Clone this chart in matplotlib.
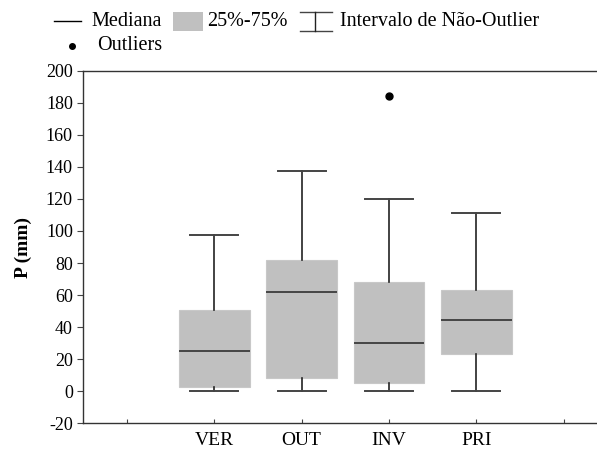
import matplotlib
matplotlib.use('Agg')
import matplotlib.pyplot as plt
from matplotlib.lines import Line2D
from matplotlib.patches import Rectangle

plt.rcParams['font.family'] = ['Liberation Serif', 'DejaVu Serif']
plt.rcParams['axes.unicode_minus'] = False

# precipitation per season
estacoes = ['VER', 'OUT', 'INV', 'PRI']
minimo = [0, 0, 0, 0]
q1 = [2.9, 8.1, 5.0, 23.1]
mediana = [25.0, 62.1, 30.3, 44.3]
q3 = [50.7, 81.9, 68.4, 63.0]
maximo = [97.7, 137.2, 120.1, 111.4]
outliers = [[], [], [184.4], []]

W, H = 597, 450
fig = plt.figure(figsize=(W / 100, H / 100), dpi=100)
ax = fig.add_axes([83.3 / W, 26.7 / H, 524 / W, 352.6 / H])

stats = []
for i, nome in enumerate(estacoes):
    stats.append(dict(label=nome, whislo=minimo[i], q1=q1[i], med=mediana[i],
                      q3=q3[i], whishi=maximo[i], fliers=outliers[i]))

pos = range(1, len(estacoes) + 1)
ax.bxp(stats, positions=pos, widths=0.81, patch_artist=True, showfliers=True,
       boxprops=dict(facecolor='#c0c0c0', edgecolor='#c8c8c8', linewidth=0.8),
       medianprops=dict(color='#303030', linewidth=1.2),
       whiskerprops=dict(color='#222222', linewidth=1.2),
       capprops=dict(color='#444444', linewidth=1.4),
       capwidths=0.55,
       flierprops=dict(marker='o', markerfacecolor='black', markeredgecolor='black',
                       markersize=5))

ax.set_xlim(-0.5, 5.5)
ax.set_ylim(-20, 200)
ax.set_xticks(range(0, 6))
ax.set_xticklabels([''] + estacoes + [''])
ax.set_yticks(range(-20, 201, 20))
ax.tick_params(axis='x', direction='in', length=3, labelsize=14, pad=6, color='#444444')
ax.tick_params(axis='y', direction='out', length=4, labelsize=13, color='#444444')
for s in ax.spines.values():
    s.set_color('#333333')
    s.set_linewidth(1.0)
ax.set_ylabel('P (mm)', fontsize=14, fontweight='bold', labelpad=10)

# legend drawn in figure pixels
def fx(x):
    return x / W

def fy(y):
    return 1 - y / H

tr = fig.transFigure
fs = 14.5
fig.add_artist(Line2D([fx(54), fx(81)], [fy(21), fy(21)], color='black', lw=1.0, transform=tr))
fig.text(fx(91), fy(21), 'Mediana', fontsize=fs, va='center', ha='left')
fig.add_artist(Rectangle((fx(173), fy(31)), fx(30), 19 / H, facecolor='#c0c0c0',
                         edgecolor='none', transform=tr))
fig.text(fx(207), fy(21), '25%-75%', fontsize=fs, va='center', ha='left')
fig.add_artist(Line2D([fx(300), fx(332)], [fy(12), fy(12)], color='#444444', lw=1.0, transform=tr))
fig.add_artist(Line2D([fx(300), fx(332)], [fy(31), fy(31)], color='#444444', lw=1.0, transform=tr))
fig.add_artist(Line2D([fx(315), fx(315)], [fy(12), fy(31)], color='#222222', lw=1.0, transform=tr))
fig.text(fx(340), fy(21), 'Intervalo de Não-Outlier', fontsize=fs, va='center', ha='left')
fig.add_artist(Line2D([fx(72)], [fy(46)], marker='o', color='black', markersize=4,
                      linestyle='none', transform=tr))
fig.text(fx(97), fy(45), 'Outliers', fontsize=fs, va='center', ha='left')

fig.savefig('out.png', dpi=100)
